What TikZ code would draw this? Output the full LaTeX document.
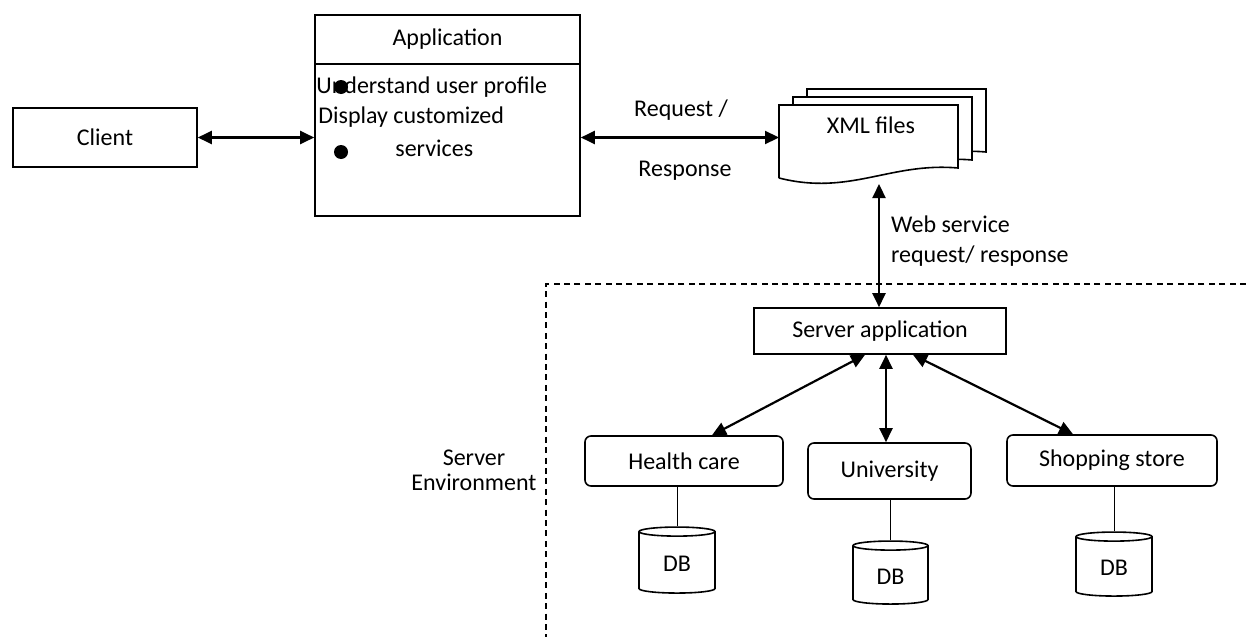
\documentclass[tikz,border=0pt]{standalone}
\usepackage{fontspec}
\setmainfont{Carlito}
\usepackage{tikz}
\usetikzlibrary{positioning,arrows.meta,shapes.geometric}

\begin{document}
\begin{tikzpicture}[x=0.5pt, y=-0.5pt,
    every node/.style={font=\fontsize{12}{15}\selectfont},
    txt/.style={inner sep=0.5pt, text height=1.5ex, text depth=.25ex},
    box/.style={rectangle, draw, line width=0.8pt},
    rbox/.style={rectangle, draw, rounded corners=3pt, line width=0.8pt},
    dbase/.style={cylinder, shape border rotate=90, draw, aspect=0.22, line width=0.8pt},
    biarrow/.style={{Triangle[length=7pt,width=6.5pt]}-{Triangle[length=7pt,width=6.5pt]}, line width=1.1pt}]
        \useasboundingbox (0,0) rectangle (1246,637);

        % Client and application
        \node[box, minimum width=92pt, minimum height=29.5pt] (client) at (105,137.5) {Client};
        \node[box, minimum width=132.5pt, minimum height=100.5pt] (app) at (447.5,115.5) {};
        \draw[line width=0.8pt] ([yshift=-25pt]app.north west) -- ([yshift=-25pt]app.north east);
        \node[txt] (apptitle) at (447.5,40) {Application};
        \node[txt, anchor=west] (line1) at (315,88) {Understand user profile};
        \node[txt, anchor=west] (line2) at (317,118) {Display customized};
        \node[txt, anchor=west] (line3) at (394,151) {services};
        \foreach \y in {87,152} {
          \fill (341,\y) circle (3.5pt);
        }

        % XML files (stack of pages)
        \foreach \dx/\dy in {28/-16, 14/-8, 0/0} {
          \filldraw[fill=white, line width=0.8pt] (779+\dx,178+\dy) -- (779+\dx,105+\dy) -- (958+\dx,105+\dy) -- (958+\dx,168+\dy)
            .. controls (890+\dx,162+\dy) and (850+\dx,196+\dy) .. (779+\dx,178+\dy);
        }
        \node[txt] (xml) at (871,128) {XML files};
        \coordinate (xmlbot) at (879,184);
        \coordinate (xmlwest) at (779,137.5);

        \draw[biarrow] (client.east) -- (client.east -| app.west);
        \draw[biarrow] (app.east |- client.east) -- (xmlwest);
        \node[txt] (req) at (681,111) {Request /};
        \node[txt] (resp) at (685,171) {Response};

        % Server environment
        \draw[dashed, dash pattern=on 3pt off 2.2pt, line width=0.7pt] (1246,284) -- (546,284) -- (546,637);
        \node[align=center, font=\fontsize{12}{12.5}\selectfont] (env) at (474,470) {Server\\Environment};

        \node[box, minimum width=126pt, minimum height=23pt] (server) at (880,331) {Server application};
        \draw[biarrow] (xmlbot) -- (xmlbot |- server.north);
        \node[align=left, anchor=west] (ws) at (884,241) {Web service\\request/ response};

        \node[rbox, minimum width=99pt, minimum height=25pt] (hc) at (684,461) {Health care};
        \node[rbox, minimum width=81.5pt, minimum height=28pt] (uni) at (889.5,471) {University};
        \node[rbox, minimum width=105pt, minimum height=25.5pt] (shop) at (1112,460.5) {Shopping store};

        \draw[biarrow] ([xshift=-7.5pt]server.south) -- ([xshift=14pt]hc.north);
        \draw[biarrow] ([xshift=-1.75pt]uni.north |- server.south) -- ([xshift=-1.75pt]uni.north);
        \draw[biarrow] ([xshift=16.5pt]server.south) -- ([xshift=-19.5pt]shop.north);

        % Databases
        \node[dbase, minimum width=38pt, minimum height=33pt] (hcdb) at (677,564) {DB};
        \node[dbase, minimum width=37.5pt, minimum height=31.5pt] (unidb) at (890.5,576.5) {DB};
        \node[dbase, minimum width=38pt, minimum height=32pt] (shopdb) at (1114,568) {DB};
        \draw[line width=0.5pt] (hcdb.north) -- (hcdb.north |- hc.south);
        \draw[line width=0.5pt] (unidb.north) -- (unidb.north |- uni.south);
        \draw[line width=0.5pt] (shopdb.north) -- (shopdb.north |- shop.south);
      \end{tikzpicture}
\end{document}
